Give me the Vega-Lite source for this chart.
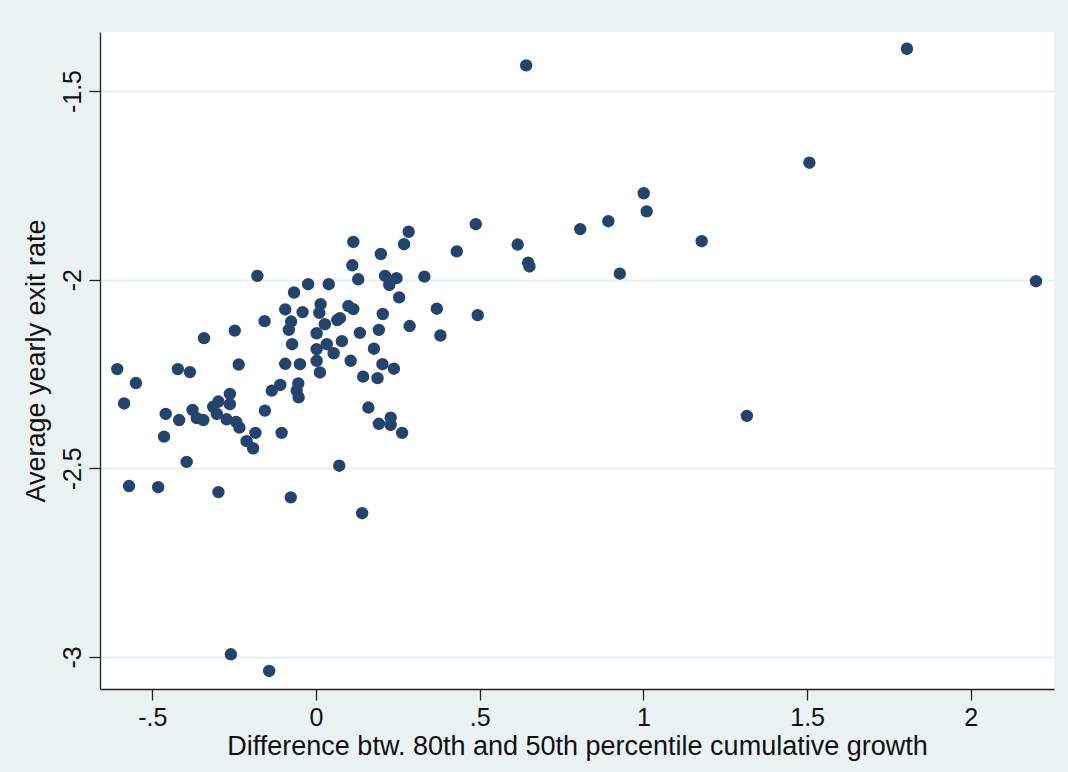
{
  "$schema": "https://vega.github.io/schema/vega-lite/v6.json",
  "width": 954,
  "height": 657,
  "autosize": {"type": "none"},
  "padding": {"left": 100, "top": 32, "right": 14, "bottom": 83},
  "background": "#EAF2F3",
  "view": {"fill": "white", "stroke": null},
  "config": {
    "font": "Liberation Sans",
    "axis": {
      "labelFont": "Liberation Sans",
      "titleFont": "Liberation Sans",
      "labelColor": "#111",
      "titleColor": "#111",
      "titleFontWeight": "normal",
      "domainColor": "#222",
      "domainWidth": 1.3,
      "tickColor": "#222",
      "tickWidth": 1.3,
      "tickSize": 11
    }
  },
  "data": {
    "values": [
      {"x": -0.179, "y": -1.990}, {"x": -0.024, "y": -2.012}, {"x": 0.039, "y": -2.012},
      {"x": -0.067, "y": -2.034}, {"x": 0.014, "y": -2.065}, {"x": -0.094, "y": -2.079},
      {"x": -0.041, "y": -2.086}, {"x": 0.010, "y": -2.088}, {"x": -0.076, "y": -2.111},
      {"x": -0.157, "y": -2.110}, {"x": -0.083, "y": -2.133}, {"x": -0.248, "y": -2.135},
      {"x": -0.342, "y": -2.155}, {"x": 0.002, "y": -2.142}, {"x": 0.027, "y": -2.118},
      {"x": -0.073, "y": -2.171}, {"x": 0.002, "y": -2.184}, {"x": -0.607, "y": -2.237},
      {"x": -0.422, "y": -2.237}, {"x": -0.385, "y": -2.245}, {"x": -0.236, "y": -2.225},
      {"x": -0.094, "y": -2.223}, {"x": -0.049, "y": -2.224}, {"x": 0.002, "y": -2.215},
      {"x": 0.012, "y": -2.246}, {"x": -0.550, "y": -2.274},
      {"x": 0.488, "y": -1.853}, {"x": 0.283, "y": -1.873}, {"x": 0.114, "y": -1.900},
      {"x": 0.269, "y": -1.906}, {"x": 0.430, "y": -1.925}, {"x": 0.616, "y": -1.907},
      {"x": 0.198, "y": -1.932}, {"x": 0.111, "y": -1.962}, {"x": 0.652, "y": -1.965},
      {"x": 0.648, "y": -1.955}, {"x": 0.211, "y": -1.990}, {"x": 0.246, "y": -1.996},
      {"x": 0.129, "y": -1.999}, {"x": 0.224, "y": -2.014}, {"x": 0.331, "y": -1.992},
      {"x": 0.254, "y": -2.047}, {"x": 0.099, "y": -2.070}, {"x": 0.114, "y": -2.078},
      {"x": 0.204, "y": -2.091}, {"x": 0.369, "y": -2.077}, {"x": 0.494, "y": -2.094},
      {"x": 0.073, "y": -2.102}, {"x": 0.065, "y": -2.107}, {"x": 0.192, "y": -2.133},
      {"x": 0.134, "y": -2.141}, {"x": 0.286, "y": -2.123}, {"x": 0.380, "y": -2.148},
      {"x": 0.079, "y": -2.163}, {"x": 0.033, "y": -2.171}, {"x": 0.177, "y": -2.183},
      {"x": 0.054, "y": -2.195}, {"x": 0.106, "y": -2.215}, {"x": 0.203, "y": -2.224},
      {"x": 0.238, "y": -2.236}, {"x": 0.144, "y": -2.257}, {"x": 0.188, "y": -2.261},
      {"x": -0.586, "y": -2.328}, {"x": -0.459, "y": -2.356}, {"x": -0.418, "y": -2.372},
      {"x": -0.464, "y": -2.416}, {"x": -0.377, "y": -2.345}, {"x": -0.364, "y": -2.367},
      {"x": -0.344, "y": -2.372}, {"x": -0.314, "y": -2.337}, {"x": -0.298, "y": -2.323},
      {"x": -0.303, "y": -2.356}, {"x": -0.273, "y": -2.370}, {"x": -0.263, "y": -2.303},
      {"x": -0.263, "y": -2.330}, {"x": -0.244, "y": -2.377}, {"x": -0.234, "y": -2.392},
      {"x": -0.212, "y": -2.428}, {"x": -0.192, "y": -2.447}, {"x": -0.185, "y": -2.406},
      {"x": -0.156, "y": -2.347}, {"x": -0.135, "y": -2.294}, {"x": -0.109, "y": -2.279},
      {"x": -0.105, "y": -2.406}, {"x": -0.054, "y": -2.275}, {"x": -0.059, "y": -2.294},
      {"x": -0.053, "y": -2.312}, {"x": -0.395, "y": -2.483}, {"x": -0.571, "y": -2.547},
      {"x": -0.482, "y": -2.550}, {"x": -0.298, "y": -2.563}, {"x": -0.077, "y": -2.577},
      {"x": 0.160, "y": -2.339}, {"x": 0.192, "y": -2.382}, {"x": 0.228, "y": -2.366},
      {"x": 0.228, "y": -2.385}, {"x": 0.263, "y": -2.406}, {"x": 0.071, "y": -2.493},
      {"x": 0.141, "y": -2.619}, {"x": -0.260, "y": -2.993}, {"x": -0.143, "y": -3.037},
      {"x": 0.642, "y": -1.432}, {"x": 1.001, "y": -1.771}, {"x": 1.010, "y": -1.819},
      {"x": 0.893, "y": -1.845}, {"x": 0.807, "y": -1.866}, {"x": 1.178, "y": -1.898},
      {"x": 0.928, "y": -1.984}, {"x": 1.805, "y": -1.388}, {"x": 1.507, "y": -1.690},
      {"x": 2.199, "y": -2.004}, {"x": 1.316, "y": -2.361}
    ]
  },
  "mark": {"type": "point", "shape": "circle", "filled": true, "opacity": 1, "size": 154, "color": "#24446e"},
  "encoding": {
    "x": {
      "field": "x",
      "type": "quantitative",
      "scale": {"domain": [-0.6597, 2.2541], "nice": false, "zero": false},
      "axis": {
        "title": "Difference btw. 80th and 50th percentile cumulative growth",
        "values": [-0.5, 0, 0.5, 1, 1.5, 2],
        "labelExpr": "datum.value == 0.5 ? '.5' : datum.value == -0.5 ? '-.5' : '' + datum.value",
        "grid": false,
        "labelFontSize": 25,
        "titleFontSize": 27,
        "labelPadding": 5,
        "titlePadding": 3
      }
    },
    "y": {
      "field": "y",
      "type": "quantitative",
      "scale": {"domain": [-3.0849, -1.3436], "nice": false, "zero": false},
      "axis": {
        "title": "Average yearly exit rate",
        "values": [-3, -2.5, -2, -1.5],
        "labelExpr": "'' + datum.value",
        "grid": true,
        "gridColor": "#E6EFF1",
        "gridWidth": 2,
        "labelAngle": 270,
        "labelAlign": "center",
        "labelBaseline": "bottom",
        "labelFontSize": 25,
        "titleFontSize": 27,
        "labelPadding": 4,
        "titlePadding": 10
      }
    }
  }
}
